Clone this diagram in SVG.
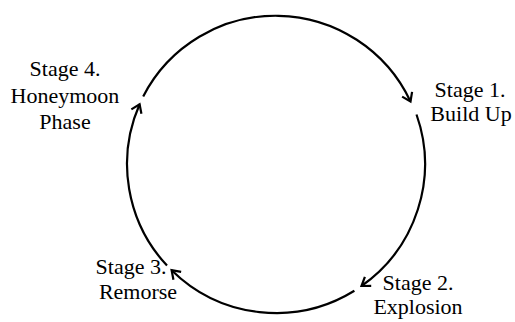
<svg xmlns="http://www.w3.org/2000/svg" width="515" height="322" viewBox="0 0 515 322">
<style>
.lbl{font-family:"Liberation Serif","Times New Roman",serif;font-size:22px;fill:#000;text-anchor:middle}
.arc{fill:none;stroke:#000;stroke-width:2.2;stroke-linecap:butt}
</style>
<defs>
<marker id="arr" viewBox="-10 -7 12 14" refX="0" refY="0" markerWidth="12" markerHeight="14" markerUnits="userSpaceOnUse" orient="auto" overflow="visible">
<path d="M-8,-5.5 L0,0 L-8,5.5" fill="none" stroke="#000" stroke-width="2.2" stroke-linejoin="miter"/>
</marker>
</defs>
<rect width="515" height="322" fill="#fff"/>
<g id="connectors">
<path class="arc" d="M143.2,96.4 A149,149 0 0 1 410.5,101.5" marker-end="url(#arr)"/>
<path class="arc" d="M416.5,114.5 A149,149 0 0 1 361.5,286" marker-end="url(#arr)"/>
<path class="arc" d="M354.4,290.8 A149,149 0 0 1 171.6,270.2" marker-end="url(#arr)"/>
<path class="arc" d="M167,265.6 A149,149 0 0 1 139.6,104.2" marker-end="url(#arr)"/>
</g>
<g id="stage1">
<text class="lbl" x="470" y="97">Stage 1.</text>
<text class="lbl" x="471" y="121">Build Up</text>
</g>
<g id="stage2">
<text class="lbl" x="418" y="290">Stage 2.</text>
<text class="lbl" x="418" y="314">Explosion</text>
</g>
<g id="stage3">
<text class="lbl" x="131" y="274">Stage 3.</text>
<text class="lbl" x="138" y="299">Remorse</text>
</g>
<g id="stage4">
<text class="lbl" x="65" y="76">Stage 4.</text>
<text class="lbl" x="65" y="103">Honeymoon</text>
<text class="lbl" x="65" y="129">Phase</text>
</g>
</svg>
